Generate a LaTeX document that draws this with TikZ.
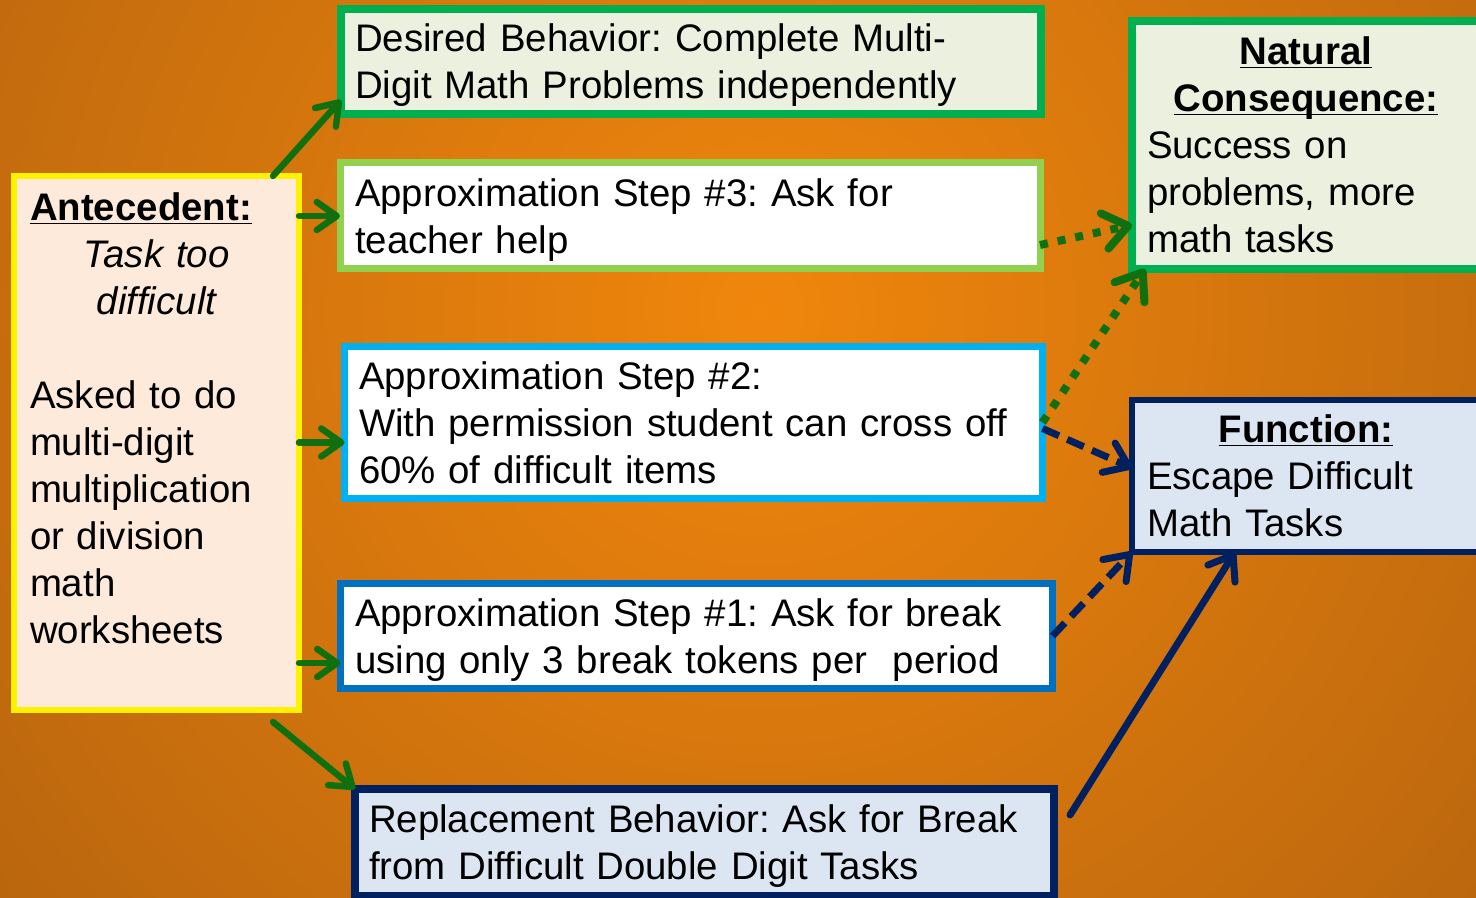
\documentclass[tikz,border=0pt]{standalone}
\usepackage{fontspec}
\setmainfont{Liberation Sans}
\usetikzlibrary{arrows.meta}

\definecolor{bgin}{RGB}{240,134,12}
\definecolor{bgout}{RGB}{152,82,16}
\definecolor{boxgreen}{RGB}{0,176,80}
\definecolor{lightgreen}{RGB}{146,208,80}
\definecolor{lightblue}{RGB}{0,176,240}
\definecolor{midblue}{RGB}{0,112,192}
\definecolor{navy}{RGB}{0,32,96}
\definecolor{greenfill}{RGB}{235,241,222}
\definecolor{peach}{RGB}{253,234,218}
\definecolor{bluefill}{RGB}{220,230,242}
\definecolor{arrgreen}{RGB}{16,112,16}

\newcommand{\ubf}[1]{\underline{\raisebox{0pt}[\height][0pt]{\textbf{#1}}}}
\newcommand{\toppad}{\rule{0pt}{17.8pt}}

\tikzset{
  box/.style={draw, anchor=north west, align=left, inner ysep=0pt, outer sep=0pt,
    font=\fontsize{19.2}{23.5}\selectfont\frenchspacing},
  garrow/.style={draw=arrgreen, line width=3.25pt, line cap=round,
    -{Straight Barb[length=10pt,width=14pt,round]}},
  gdot/.style={draw=arrgreen, line width=4pt, dash pattern=on 4pt off 5pt,
    -{Straight Barb[length=12pt,width=18pt,round]}},
  ndash/.style={draw=navy, line width=3.5pt, dash pattern=on 9pt off 4.5pt,
    -{Straight Barb[length=11pt,width=16pt,round]}},
  narrow/.style={draw=navy, line width=3.5pt, line cap=round,
    -{Straight Barb[length=11pt,width=16pt,round]}},
}

\begin{document}
\begin{tikzpicture}[x=0.5pt,y=-0.5pt]
  \useasboundingbox (0,0) rectangle (1476,898);
  \begin{scope}
    \clip (0,0) rectangle (1476,898);
    \shade[inner color=bgin, outer color=bgout] (760,310) circle[radius=780pt];
  \end{scope}

  \node[box, draw=yellow, fill=peach, line width=3pt, inner xsep=8pt,
    text width=126.5pt, minimum height=267pt] (ante) at (14,176)
    {\ubf{Antecedent:}\par
     {\centering\itshape Task too\\difficult\par}
     \vspace{23.5pt}
     Asked to do\\multi-digit\\multiplication\\or division\\math\\worksheets\rule[-25pt]{0pt}{0pt}};

  \node[box, draw=boxgreen, fill=greenfill, line width=4pt, inner xsep=7pt,
    text width=336pt, minimum height=52.5pt] (desired) at (341,9)
    {\toppad Desired Behavior: Complete Multi-\\Digit Math Problems independently};
  \node[box, draw=lightgreen, fill=white, line width=3.5pt, inner xsep=7.5pt,
    text width=335pt, minimum height=53pt] (s3) at (340,163)
    {\toppad Approximation Step \#3: Ask for\\teacher help};
  \node[box, draw=lightblue, fill=white, line width=3.5pt, inner xsep=7.25pt,
    text width=334.5pt, minimum height=76pt] (s2) at (344.5,346.5)
    {Approximation Step \#2:\\With permission student can cross off\\60\% of difficult items};
  \node[box, draw=midblue, fill=white, line width=3.5pt, inner xsep=7.25pt,
    text width=341.5pt, minimum height=52.5pt] (s1) at (340.5,583.5)
    {\toppad Approximation Step \#1: Ask for break\\using only 3 break tokens per~~period};
  \node[box, draw=navy, fill=bluefill, line width=4pt, inner xsep=7pt,
    text width=335.5pt, minimum height=53.5pt] (repl) at (355,789)
    {\toppad Replacement Behavior: Ask for Break\\from Difficult Double Digit Tasks};

  \node[box, draw=boxgreen, fill=greenfill, line width=4pt, inner xsep=7.5pt,
    text width=159pt, minimum height=124pt] (nat) at (1132,21)
    {{\centering\ubf{Natural}\\\ubf{Consequence:}\par}
     Success on\\problems, more\\math tasks};
  \node[box, draw=navy, fill=bluefill, line width=3pt, inner xsep=7.5pt,
    text width=159pt, minimum height=76pt] (func) at (1132,400)
    {{\centering\ubf{Function:}\par}
     Escape Difficult\\Math Tasks};

  \coordinate (s2in) at ([yshift=-10pt]s2.west);
  \coordinate (s1in) at ([yshift=-13.5pt]s1.west);

  \draw[garrow] ([xshift=-13pt]ante.north east) -- ([yshift=-19.25pt]desired.west);
  \draw[garrow] (ante.east |- s3.west) -- (s3.west);
  \draw[garrow] (ante.east |- s2in) -- (s2in);
  \draw[garrow] (ante.east |- s1in) -- (s1in);
  \draw[garrow] ([xshift=-13pt,yshift=-6pt]ante.south east) -- (repl.north west);

  \draw[gdot] ([yshift=-14.5pt]s3.east) -- ([yshift=-40pt]nat.west);
  \draw[gdot] (s2.east) -- ([xshift=6.5pt]nat.south west);
  \draw[ndash] ([yshift=-3pt]s2.east) -- ([yshift=4pt]func.west);
  \draw[ndash] (s1.east) -- (func.south west);
  \draw[narrow] ([xshift=8pt,yshift=-13pt]repl.north east) -- ([xshift=51.5pt]func.south west);
\end{tikzpicture}
\end{document}
